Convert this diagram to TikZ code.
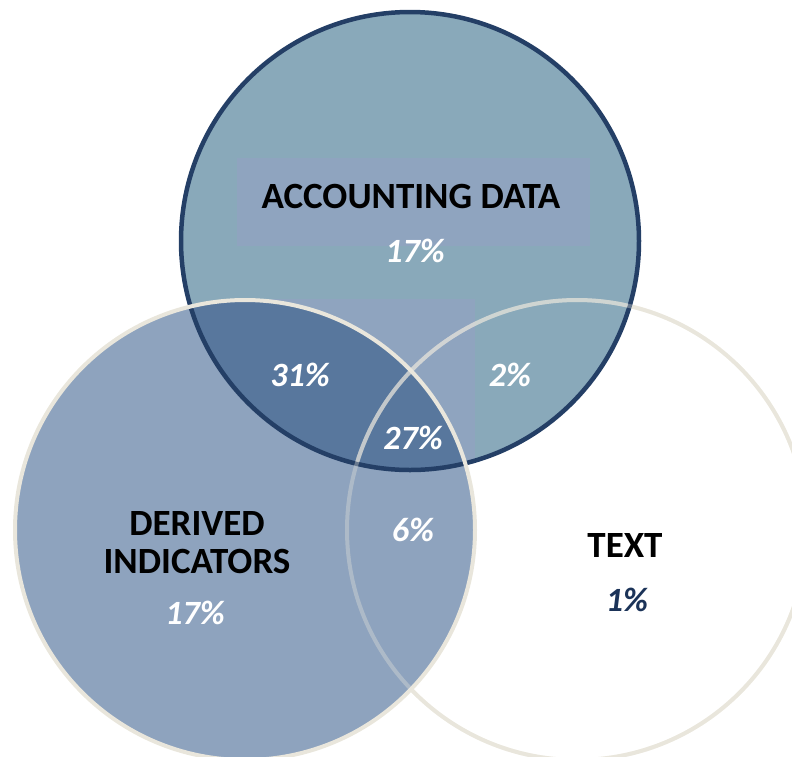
\documentclass[tikz,border=0pt]{standalone}
\usepackage{fontspec}
\setmainfont{Carlito}
\definecolor{acctfill}{HTML}{89A9BA}
\definecolor{acctline}{HTML}{243F66}
\definecolor{boxfill}{HTML}{8FA4BF}
\definecolor{derivfill}{HTML}{8EA3BE}
\definecolor{overlapfill}{HTML}{58779D}
\definecolor{ringline}{HTML}{E9E6DC}
\definecolor{pctdark}{HTML}{1B3358}
\tikzset{
  setname/.style={font=\bfseries\fontsize{37}{38}\selectfont, align=center},
  pct/.style={font=\bfseries\itshape\fontsize{34}{36}\selectfont, text=white},
}
\begin{document}
\begin{tikzpicture}[x=1pt, y=-1pt]
  \useasboundingbox (0,0) rectangle (792,756);
  \clip (0,0) rectangle (792,756);
  % text circle sits underneath
  \draw[ringline, line width=4pt] (577,530) circle (230);
  % accounting data
  \fill[acctfill] (410,241) circle (229);
  \begin{scope}
    \clip (410,241) circle (229);
    \fill[boxfill] (237,158) rectangle (590,246);
    \fill[boxfill] (237,299) rectangle (475,480);
  \end{scope}
  % derived indicators
  \fill[derivfill] (245,530) circle (230);
  \begin{scope}
    \clip (410,241) circle (229);
    \fill[overlapfill] (245,530) circle (230);
  \end{scope}
  \draw[acctline, line width=4.5pt] (410,241) circle (229);
  \draw[ringline, line width=4pt] (245,530) circle (230);
  \begin{scope}
    \clip (410,241) circle (227);
    \draw[ringline, line width=4pt, opacity=0.6] (577,530) circle (230);
  \end{scope}
  \draw[ringline, line width=4pt, opacity=0.35] (577,530) circle (230);
  % labels
  \node[setname] (acct) at (411,196) {ACCOUNTING DATA};
  \node[setname] (deriv) at (197,543) {DERIVED\\INDICATORS};
  \node[setname] (text) at (625,545) {TEXT};
  \node[pct] (pacct) at (415,251) {17\%};
  \node[pct] (pad) at (300,375) {31\%};
  \node[pct] (pat) at (510,375) {2\%};
  \node[pct] (padt) at (413,438) {27\%};
  \node[pct] (pdt) at (413,530) {6\%};
  \node[pct] (pderiv) at (195,613) {17\%};
  \node[pct, text=pctdark] (ptext) at (627,600) {1\%};
\end{tikzpicture}
\end{document}
